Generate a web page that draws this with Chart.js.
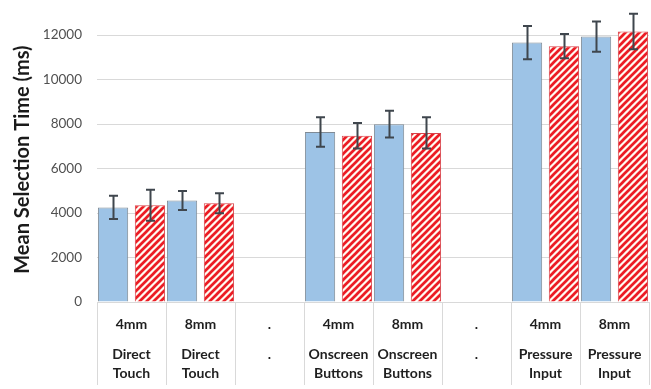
<!DOCTYPE html>
<html>
<head>
<meta charset="utf-8">
<script src="https://cdn.jsdelivr.net/npm/chart.js@4.4.1/dist/chart.umd.min.js"></script>
<style>
  html, body { margin: 0; padding: 0; background: #ffffff; }
  canvas { display: block; }
</style>
</head>
<body>
<canvas id="chart" width="651" height="389"></canvas>
<script>
// Target sizes and input methods (empty "." columns separate the groups)
const sizes = ['4mm', '8mm', '.', '4mm', '8mm', '.', '4mm', '8mm'];
const methodLine1 = ['Direct', 'Direct', '.', 'Onscreen', 'Onscreen', '.', 'Pressure', 'Pressure'];
const methodLine2 = ['Touch', 'Touch', '', 'Buttons', 'Buttons', '', 'Input', 'Input'];

// Mean selection time (ms) and error half-widths for the two conditions
const blueMeans  = [4250, 4560, null, 7640, 7990, null, 11660, 11930];
const blueErrors = [520, 430, null, 660, 600, null, 750, 680];
const redMeans   = [4350, 4440, null, 7470, 7600, null, 11500, 12160];
const redErrors  = [700, 450, null, 570, 700, null, 545, 800];

// Value-axis tick labels
const yTicks = [0, 2000, 4000, 6000, 8000, 10000, 12000];

// Red diagonal hatch fill
function makeHatch() {
  const s = 7;
  const c = document.createElement('canvas');
  c.width = s; c.height = s;
  const g = c.getContext('2d');
  g.fillStyle = '#fffaf2';
  g.fillRect(0, 0, s, s);
  g.strokeStyle = '#ec1c24';
  g.lineWidth = 2.7;
  g.lineCap = 'square';
  g.beginPath();
  g.moveTo(-1, s + 1); g.lineTo(s + 1, -1);
  g.moveTo(-1, 1); g.lineTo(1, -1);
  g.moveTo(s - 1, s + 1); g.lineTo(s + 1, s - 1);
  g.stroke();
  return g.createPattern(c, 'repeat');
}

const ctx = document.getElementById('chart').getContext('2d');

// Vertical error bars with caps, drawn on top of each bar
const errorBars = {
  id: 'errorBars',
  afterDatasetsDraw(chart) {
    const c = chart.ctx;
    const yScale = chart.scales.y;
    chart.data.datasets.forEach((ds, di) => {
      const meta = chart.getDatasetMeta(di);
      meta.data.forEach((bar, i) => {
        const m = ds.data[i];
        const e = ds.errors[i];
        if (m == null || e == null) return;
        const x = Math.round(bar.x) + 0.5;
        const yt = yScale.getPixelForValue(m + e);
        const yb = yScale.getPixelForValue(m - e);
        c.save();
        c.strokeStyle = '#3f464d';
        c.lineWidth = 2;
        c.beginPath();
        c.moveTo(x, yt); c.lineTo(x, yb);
        c.moveTo(x - 4.5, yt); c.lineTo(x + 4.5, yt);
        c.moveTo(x - 4.5, yb); c.lineTo(x + 4.5, yb);
        c.stroke();
        c.restore();
      });
    });
  }
};

// Category labels written into the table cells under the axis
const tableLabels = {
  id: 'tableLabels',
  afterDraw(chart) {
    const c = chart.ctx;
    const xScale = chart.scales.x;
    c.save();
    c.fillStyle = '#1f1f1f';
    c.textAlign = 'center';
    c.textBaseline = 'middle';
    c.font = 'bold 14px Lato';
    sizes.forEach((s, i) => {
      const x = xScale.getPixelForValue(i);
      c.fillText(s, x, 324);
      c.fillText(methodLine1[i], x, 354);
      if (methodLine2[i]) c.fillText(methodLine2[i], x, 373);
    });
    c.restore();
  }
};

new Chart(ctx, {
  type: 'bar',
  data: {
    labels: sizes.map((s, i) => [s, methodLine1[i], methodLine2[i]]),
    datasets: [
      {
        label: 'Solid',
        data: blueMeans,
        errors: blueErrors,
        backgroundColor: '#9dc3e6',
        borderColor: '#7f8a95',
        borderWidth: 1,
        categoryPercentage: 1.07,
        barPercentage: 0.82
      },
      {
        label: 'Hatched',
        data: redMeans,
        errors: redErrors,
        backgroundColor: makeHatch(),
        borderColor: '#d9434a',
        borderWidth: 1,
        categoryPercentage: 1.07,
        barPercentage: 0.82
      }
    ]
  },
  options: {
    responsive: false,
    devicePixelRatio: 1,
    animation: false,
    layout: { padding: { top: 17.2, right: 2, left: 0, bottom: 0 } },
    plugins: {
      legend: { display: false },
      tooltip: { enabled: false }
    },
    scales: {
      x: {
        offset: true,
        grid: {
          offset: true,
          drawOnChartArea: false,
          drawTicks: true,
          tickLength: 83,
          color: '#d9d9d9',
          lineWidth: 1
        },
        border: { display: true, color: '#d9d9d9', width: 1 },
        ticks: { display: false },
        afterFit(scale) { scale.height = 87; }
      },
      y: {
        min: 0,
        max: 12800,
        afterBuildTicks(scale) {
          scale.ticks = yTicks.map(v => ({ value: v }));
        },
        grid: {
          color: '#d9d9d9',
          lineWidth: 1,
          drawTicks: true,
          tickLength: 15,
          tickColor: 'rgba(0,0,0,0)'
        },
        border: { display: false },
        ticks: {
          padding: 0,
          color: '#505050',
          font: { family: 'Lato', size: 13.5 },
          callback: v => String(v)
        },
        title: {
          display: true,
          text: 'Mean Selection Time (ms)',
          color: '#1a1a1a',
          font: { family: 'Lato', size: 20, weight: 'bold' },
          padding: { top: 11, bottom: 0 }
        },
        afterFit(scale) { scale.width = 97; }
      }
    }
  },
  plugins: [errorBars, tableLabels]
});
</script>
</body>
</html>
